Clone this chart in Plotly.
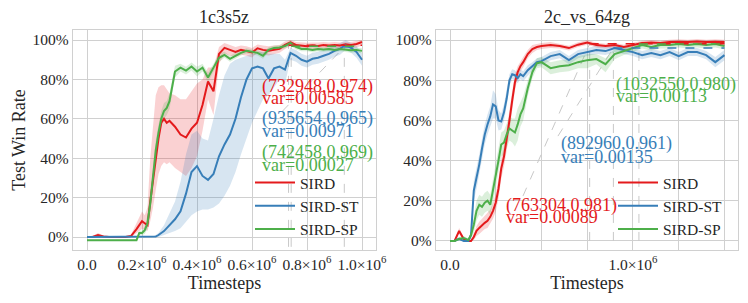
import numpy as np
import plotly.graph_objects as go

# ---------------- data: 1c3s5z (timesteps in millions) ----------------
L_T = [0.00, 0.02, 0.04, 0.06, 0.08, 0.10, 0.12, 0.14, 0.16, 0.17,
       0.18, 0.19, 0.20, 0.21, 0.22, 0.23, 0.24, 0.25, 0.26, 0.27,
       0.28, 0.29, 0.30, 0.32, 0.34, 0.36, 0.38, 0.40, 0.42, 0.44,
       0.46, 0.48, 0.50, 0.52, 0.54, 0.56, 0.58, 0.60, 0.62, 0.64,
       0.66, 0.68, 0.70, 0.72, 0.74, 0.76, 0.78, 0.80, 0.82, 0.84,
       0.86, 0.88, 0.90, 0.92, 0.94, 0.96, 0.98, 1.00]

L_SIRD = [0, 0, 0.010, 0.003, 0, 0, 0, 0, 0.005, 0.020,
          0.040, 0.060, 0.080, 0.070, 0.060, 0.180, 0.290, 0.400, 0.500, 0.580,
          0.600, 0.580, 0.590, 0.560, 0.520, 0.505, 0.550, 0.580, 0.670, 0.790,
          0.740, 0.930, 0.960, 0.950, 0.940, 0.950, 0.945, 0.937, 0.958, 0.950,
          0.946, 0.950, 0.955, 0.975, 0.988, 0.975, 0.970, 0.968, 0.972, 0.970,
          0.975, 0.970, 0.975, 0.972, 0.978, 0.975, 0.980, 0.990]
L_SIRD_LO = [0, 0, 0.003, 0, 0, 0, 0, 0, 0, 0.010,
             0.020, 0.030, 0.040, 0.040, 0.030, 0.080, 0.150, 0.240, 0.320, 0.360,
             0.380, 0.370, 0.380, 0.350, 0.330, 0.310, 0.350, 0.410, 0.540, 0.700,
             0.620, 0.880, 0.930, 0.920, 0.915, 0.925, 0.920, 0.912, 0.935, 0.925,
             0.922, 0.928, 0.935, 0.955, 0.970, 0.958, 0.952, 0.950, 0.955, 0.952,
             0.958, 0.952, 0.958, 0.955, 0.962, 0.958, 0.962, 0.972]
L_SIRD_HI = [0.005, 0.005, 0.020, 0.008, 0.005, 0.005, 0.005, 0.005, 0.012, 0.040,
             0.070, 0.100, 0.130, 0.110, 0.150, 0.400, 0.580, 0.720, 0.760, 0.770,
             0.770, 0.750, 0.730, 0.720, 0.700, 0.700, 0.740, 0.780, 0.800, 0.860,
             0.860, 0.965, 0.985, 0.975, 0.965, 0.972, 0.968, 0.960, 0.978, 0.972,
             0.968, 0.972, 0.975, 0.992, 1.000, 0.990, 0.988, 0.986, 0.988, 0.987,
             0.990, 0.988, 0.990, 0.988, 0.993, 0.990, 0.995, 1.000]

L_ST = [0, 0, 0, 0, 0, 0, 0, 0, 0, 0,
        0, 0, 0, 0, 0, 0, 0, 0.002, 0.010, 0.020,
        0.030, 0.045, 0.060, 0.090, 0.130, 0.220, 0.330, 0.360, 0.310, 0.290,
        0.320, 0.410, 0.470, 0.520, 0.600, 0.710, 0.800, 0.856, 0.865, 0.856,
        0.805, 0.856, 0.865, 0.850, 0.935, 0.920, 0.900, 0.890, 0.905, 0.910,
        0.920, 0.930, 0.945, 0.955, 0.975, 0.960, 0.940, 0.900]
L_ST_LO = [0, 0, 0, 0, 0, 0, 0, 0, 0, 0,
           0, 0, 0, 0, 0, 0, 0, 0, 0, 0.005,
           0.010, 0.015, 0.020, 0.030, 0.045, 0.080, 0.110, 0.130, 0.140, 0.140,
           0.150, 0.170, 0.210, 0.260, 0.330, 0.420, 0.500, 0.580, 0.640, 0.700,
           0.720, 0.760, 0.800, 0.780, 0.900, 0.890, 0.870, 0.860, 0.875, 0.880,
           0.890, 0.900, 0.915, 0.925, 0.950, 0.935, 0.910, 0.870]
L_ST_HI = [0.003, 0.003, 0.003, 0.003, 0.003, 0.003, 0.003, 0.003, 0.003, 0.003,
           0.003, 0.003, 0.003, 0.003, 0.003, 0.003, 0.003, 0.010, 0.020, 0.040,
           0.060, 0.090, 0.120, 0.180, 0.280, 0.420, 0.520, 0.540, 0.500, 0.490,
           0.600, 0.720, 0.820, 0.880, 0.900, 0.910, 0.920, 0.930, 0.940, 0.940,
           0.930, 0.930, 0.930, 0.900, 0.960, 0.950, 0.930, 0.920, 0.935, 0.940,
           0.950, 0.960, 0.975, 0.985, 1.000, 0.985, 0.970, 0.930]

L_SP = [-0.017, -0.017, -0.017, -0.017, -0.017, -0.017, -0.017, -0.017, -0.017, -0.017,
        -0.017, 0.020, 0.020, 0.035, 0.070, 0.170, 0.300, 0.440, 0.530, 0.600,
        0.640, 0.655, 0.690, 0.840, 0.860, 0.845, 0.866, 0.840, 0.860, 0.810,
        0.860, 0.910, 0.925, 0.905, 0.920, 0.935, 0.945, 0.940, 0.935, 0.920,
        0.950, 0.960, 0.962, 0.970, 0.985, 0.965, 0.955, 0.955, 0.950, 0.955,
        0.952, 0.955, 0.950, 0.955, 0.950, 0.948, 0.950, 0.945]
L_SP_LO = [-0.020, -0.020, -0.020, -0.020, -0.020, -0.020, -0.020, -0.020, -0.020, -0.020,
           -0.020, 0.010, 0.010, 0.015, 0.040, 0.120, 0.250, 0.400, 0.490, 0.560,
           0.600, 0.620, 0.650, 0.810, 0.840, 0.825, 0.845, 0.815, 0.840, 0.785,
           0.840, 0.890, 0.910, 0.890, 0.905, 0.922, 0.932, 0.928, 0.922, 0.905,
           0.937, 0.948, 0.950, 0.958, 0.972, 0.952, 0.943, 0.943, 0.938, 0.943,
           0.940, 0.943, 0.938, 0.943, 0.938, 0.936, 0.938, 0.932]
L_SP_HI = [-0.014, -0.014, -0.014, -0.014, -0.014, -0.014, -0.014, -0.014, -0.014, -0.014,
           -0.014, 0.030, 0.032, 0.055, 0.110, 0.230, 0.360, 0.490, 0.570, 0.640,
           0.680, 0.690, 0.730, 0.870, 0.880, 0.865, 0.886, 0.865, 0.880, 0.835,
           0.880, 0.930, 0.940, 0.920, 0.935, 0.948, 0.958, 0.952, 0.948, 0.935,
           0.963, 0.972, 0.974, 0.982, 0.998, 0.978, 0.967, 0.967, 0.962, 0.967,
           0.964, 0.967, 0.962, 0.967, 0.962, 0.960, 0.962, 0.958]

L_MARK_T = [732948, 935654, 742458]
L_MARK_V = [0.974, 0.965, 0.969]
L_MARK_VAR = ["0.00585", "0.00971", "0.00027"]

# ---------------- data: 2c_vs_64zg (timesteps in millions) ----------------
R_T = [0, 0.025, 0.05, 0.075, 0.1, 0.115, 0.13, 0.145, 0.16, 0.175,
       0.19, 0.205, 0.22, 0.235, 0.25, 0.265, 0.28, 0.295, 0.31, 0.325,
       0.34, 0.355, 0.37, 0.385, 0.4, 0.425, 0.45, 0.475, 0.5, 0.55,
       0.6, 0.65, 0.7, 0.75, 0.8, 0.85, 0.9, 0.95, 1.0, 1.05,
       1.1, 1.15, 1.2, 1.25, 1.3, 1.35, 1.4, 1.45, 1.5]

R_SIRD = [0, 0, 0.050, 0.010, 0, 0, 0.020, 0.050, 0.065, 0.080,
          0.090, 0.100, 0.120, 0.150, 0.190, 0.260, 0.360, 0.420, 0.500, 0.600,
          0.700, 0.790, 0.840, 0.870, 0.890, 0.930, 0.955, 0.965, 0.970, 0.975,
          0.970, 0.960, 0.977, 0.988, 0.975, 0.970, 0.975, 0.965, 0.975, 0.985,
          0.988, 0.985, 0.990, 0.992, 0.990, 0.993, 0.990, 0.992, 0.990]
R_SIRD_LO = [0, 0, 0.035, 0.002, 0, 0, 0.005, 0.025, 0.035, 0.050,
             0.060, 0.065, 0.085, 0.110, 0.145, 0.210, 0.310, 0.370, 0.450, 0.550,
             0.655, 0.750, 0.810, 0.845, 0.865, 0.910, 0.935, 0.950, 0.955, 0.960,
             0.958, 0.948, 0.965, 0.976, 0.963, 0.958, 0.963, 0.953, 0.963, 0.973,
             0.976, 0.973, 0.978, 0.980, 0.978, 0.981, 0.978, 0.980, 0.978]
R_SIRD_HI = [0.005, 0.005, 0.065, 0.018, 0.005, 0.005, 0.035, 0.075, 0.095, 0.110,
             0.120, 0.135, 0.155, 0.190, 0.235, 0.310, 0.410, 0.470, 0.550, 0.650,
             0.745, 0.830, 0.870, 0.895, 0.915, 0.950, 0.975, 0.980, 0.985, 0.990,
             0.982, 0.972, 0.989, 1.000, 0.987, 0.982, 0.987, 0.977, 0.987, 0.997,
             1.000, 0.997, 1.002, 1.004, 1.002, 1.005, 1.002, 1.004, 1.002]

R_ST = [0, 0, 0.010, 0, 0, 0.030, 0.250, 0.310, 0.380, 0.460,
        0.530, 0.580, 0.620, 0.680, 0.670, 0.600, 0.595, 0.640, 0.710, 0.800,
        0.830, 0.825, 0.810, 0.830, 0.820, 0.850, 0.870, 0.890, 0.895, 0.920,
        0.930, 0.900, 0.930, 0.940, 0.950, 0.945, 0.960, 0.950, 0.940, 0.925,
        0.935, 0.925, 0.940, 0.920, 0.940, 0.940, 0.925, 0.890, 0.925]
R_ST_LO = [0, 0, 0.003, 0, 0, 0.010, 0.200, 0.260, 0.330, 0.410,
           0.480, 0.530, 0.570, 0.610, 0.610, 0.550, 0.555, 0.600, 0.670, 0.770,
           0.805, 0.800, 0.785, 0.805, 0.795, 0.825, 0.850, 0.870, 0.875, 0.900,
           0.910, 0.880, 0.910, 0.920, 0.930, 0.925, 0.940, 0.930, 0.920, 0.905,
           0.915, 0.905, 0.920, 0.900, 0.920, 0.920, 0.905, 0.865, 0.900]
R_ST_HI = [0.003, 0.003, 0.020, 0.003, 0.003, 0.050, 0.300, 0.360, 0.430, 0.510,
           0.580, 0.630, 0.670, 0.750, 0.730, 0.650, 0.635, 0.680, 0.750, 0.830,
           0.855, 0.850, 0.835, 0.855, 0.845, 0.875, 0.890, 0.910, 0.915, 0.940,
           0.950, 0.920, 0.950, 0.960, 0.970, 0.965, 0.980, 0.970, 0.960, 0.945,
           0.955, 0.945, 0.960, 0.940, 0.960, 0.960, 0.945, 0.915, 0.950]

R_SP = [0, 0, 0.010, 0.015, 0.005, 0.030, 0.080, 0.150, 0.180, 0.170,
        0.190, 0.200, 0.180, 0.250, 0.330, 0.400, 0.480, 0.490, 0.530, 0.560,
        0.550, 0.540, 0.580, 0.630, 0.660, 0.760, 0.840, 0.885, 0.890, 0.860,
        0.870, 0.875, 0.890, 0.900, 0.905, 0.880, 0.930, 0.945, 0.960, 0.975,
        0.965, 0.975, 0.975, 0.980, 0.975, 0.980, 0.975, 0.980, 0.970]
R_SP_LO = [0, 0, 0.003, 0.005, 0, 0.010, 0.040, 0.100, 0.130, 0.120,
           0.140, 0.150, 0.130, 0.190, 0.270, 0.340, 0.420, 0.430, 0.470, 0.500,
           0.490, 0.470, 0.500, 0.570, 0.600, 0.720, 0.810, 0.860, 0.865, 0.830,
           0.840, 0.845, 0.860, 0.860, 0.880, 0.840, 0.905, 0.925, 0.940, 0.958,
           0.948, 0.958, 0.958, 0.963, 0.958, 0.963, 0.958, 0.963, 0.953]
R_SP_HI = [0.005, 0.005, 0.020, 0.025, 0.012, 0.050, 0.120, 0.200, 0.230, 0.220,
           0.240, 0.250, 0.230, 0.310, 0.390, 0.460, 0.540, 0.550, 0.590, 0.620,
           0.610, 0.610, 0.660, 0.690, 0.720, 0.800, 0.870, 0.910, 0.915, 0.890,
           0.900, 0.905, 0.920, 0.930, 0.930, 0.910, 0.955, 0.965, 0.980, 0.992,
           0.982, 0.992, 0.992, 0.997, 0.992, 0.997, 0.992, 0.997, 0.987]

R_MARK_T = [763304, 892960, 1032550]
R_MARK_V = [0.981, 0.961, 0.980]
R_MARK_VAR = ["0.00089", "0.00135", "0.00113"]

SERIES = ["SIRD", "SIRD-ST", "SIRD-SP"]
TITLES = ["1c3s5z", "2c_vs_64zg"]

L_XTICKS = [0, 0.2, 0.4, 0.6, 0.8, 1.0]
L_XTICKTEXT = ["0.0", "0.2×10<sup>6</sup>", "0.4×10<sup>6</sup>", "0.6×10<sup>6</sup>",
               "0.8×10<sup>6</sup>", "1.0×10<sup>6</sup>"]
R_XTICKS = [0, 0.25, 0.5, 0.75, 1.0, 1.25, 1.5]
R_XTICKTEXT = ["0.0", "", "", "", "1.0×10<sup>6</sup>", "", ""]
Y_TICKS = [0, 0.2, 0.4, 0.6, 0.8, 1.0]
Y_TICKTEXT = ["0%", "20%", "40%", "60%", "80%", "100%"]

# ---------------- styling ----------------
COLORS = ["#e41a1c", "#377eb8", "#4daf4a"]
FILLS = ["rgba(228,26,28,0.2)", "rgba(55,126,184,0.2)", "rgba(77,175,74,0.2)"]
GRID = "#d0d0d0"
REF = "#c8c8c8"
TXT = "#262626"
FONT = "Liberation Serif, Times New Roman, serif"
W, H = 748, 303

fig = go.Figure()


def add_panel(xa, ya, leg, t, series, marks_t, marks_v, marks_var, x_end, vbottom,
              text_pos, diag_start):
    x = [v * 1e6 for v in t]
    # grey reference lines (vertical + connectors)
    for i in range(3):
        fig.add_trace(go.Scatter(x=[marks_t[i], marks_t[i]], y=[vbottom, marks_v[i]],
                                 mode="lines", line=dict(color=REF, width=1, dash="dash"),
                                 xaxis=xa, yaxis=ya, showlegend=False, hoverinfo="skip"))
        if diag_start[i] is not None:
            fig.add_trace(go.Scatter(x=[diag_start[i][0], marks_t[i]],
                                     y=[diag_start[i][1], marks_v[i]],
                                     mode="lines", line=dict(color=REF, width=1, dash="dash"),
                                     xaxis=xa, yaxis=ya, showlegend=False, hoverinfo="skip"))
    # bands
    for i, (name, mean, lo, hi) in enumerate(series):
        fig.add_trace(go.Scatter(x=x, y=lo, mode="lines", line=dict(width=0),
                                 xaxis=xa, yaxis=ya, showlegend=False, hoverinfo="skip"))
        fig.add_trace(go.Scatter(x=x, y=hi, mode="lines", line=dict(width=0),
                                 fill="tonexty", fillcolor=FILLS[i],
                                 xaxis=xa, yaxis=ya, showlegend=False, hoverinfo="skip"))
    # mean lines
    for i, (name, mean, lo, hi) in enumerate(series):
        fig.add_trace(go.Scatter(x=x, y=mean, mode="lines", name=name,
                                 line=dict(color=COLORS[i], width=2),
                                 xaxis=xa, yaxis=ya, legend=leg))
    # horizontal marker lines in series colours
    for i in range(3):
        fig.add_trace(go.Scatter(x=[marks_t[i], x_end], y=[marks_v[i], marks_v[i]],
                                 mode="lines", line=dict(color=COLORS[i], width=1.5, dash="dash"),
                                 xaxis=xa, yaxis=ya, showlegend=False, hoverinfo="skip"))
    # text labels
    for i in range(3):
        tx, y1, y2 = text_pos[i]
        fig.add_annotation(x=tx, y=y1, xref=xa, yref=ya, xanchor="left", yanchor="middle",
                           text=f"({marks_t[i]},{marks_v[i]:.3f})", showarrow=False,
                           font=dict(family=FONT, size=18, color=COLORS[i]))
        fig.add_annotation(x=tx, y=y2, xref=xa, yref=ya, xanchor="left", yanchor="middle",
                           text=f"var={marks_var[i]}", showarrow=False,
                           font=dict(family=FONT, size=18, color=COLORS[i]))


add_panel("x", "y", "legend", L_T,
          [(SERIES[0], L_SIRD, L_SIRD_LO, L_SIRD_HI),
           (SERIES[1], L_ST, L_ST_LO, L_ST_HI),
           (SERIES[2], L_SP, L_SP_LO, L_SP_HI)],
          L_MARK_T, L_MARK_V, L_MARK_VAR, 1.0e6, -0.05,
          [(0.628e6, 0.765, 0.705), (0.628e6, 0.602, 0.537), (0.628e6, 0.428, 0.364)],
          [None, (0.710e6, 0.638), None])

add_panel("x2", "y2", "legend2", R_T,
          [(SERIES[0], R_SIRD, R_SIRD_LO, R_SIRD_HI),
           (SERIES[1], R_ST, R_ST_LO, R_ST_HI),
           (SERIES[2], R_SP, R_SP_LO, R_SP_HI)],
          R_MARK_T, R_MARK_V, R_MARK_VAR, 1.5e6, 0.0,
          [(0.295e6, 0.176, 0.118), (0.596e6, 0.483, 0.416), (0.896e6, 0.781, 0.720)],
          [(0.399e6, 0.224), (0.590e6, 0.522), None])

axis_common = dict(showgrid=True, gridcolor=GRID, gridwidth=1, zeroline=False,
                   showline=True, linecolor=GRID, linewidth=1.25, mirror=True,
                   automargin=False, ticks="",
                   tickfont=dict(family=FONT, size=15.5, color=TXT))

fig.update_layout(
    template="none",
    width=W, height=H,
    margin=dict(l=0, r=0, t=0, b=0, pad=0, autoexpand=False),
    paper_bgcolor="white", plot_bgcolor="white",
    font=dict(family=FONT, color=TXT),
    xaxis=dict(domain=[73 / W, 376 / W], range=[-0.0509e6, 1.0509e6],
               tickvals=[v * 1e6 for v in L_XTICKS], ticktext=L_XTICKTEXT,
               title=dict(text="Timesteps", font=dict(family=FONT, size=18, color=TXT), standoff=4),
               anchor="y", **axis_common),
    yaxis=dict(domain=[1 - 250 / H, 1 - 30 / H], range=[-0.066, 1.051],
               tickvals=Y_TICKS, ticktext=Y_TICKTEXT,
               title=dict(text="Test Win Rate", font=dict(family=FONT, size=18, color=TXT), standoff=2),
               anchor="x", **axis_common),
    xaxis2=dict(domain=[436 / W, 738 / W], range=[-0.0765e6, 1.574e6],
                tickvals=[v * 1e6 for v in R_XTICKS], ticktext=R_XTICKTEXT,
                title=dict(text="Timesteps", font=dict(family=FONT, size=18, color=TXT), standoff=4),
                anchor="y2", **axis_common),
    yaxis2=dict(domain=[1 - 250 / H, 1 - 30 / H], range=[-0.045, 1.05],
                tickvals=Y_TICKS, ticktext=Y_TICKTEXT, anchor="x2", **axis_common),
    legend=dict(x=250 / W, y=1 - 166 / H, xanchor="left", yanchor="top",
                bgcolor="rgba(0,0,0,0)", itemwidth=40, traceorder="normal",
                font=dict(family=FONT, size=15.5, color=TXT)),
    legend2=dict(x=613 / W, y=1 - 166 / H, xanchor="left", yanchor="top",
                 bgcolor="rgba(0,0,0,0)", itemwidth=40, traceorder="normal",
                 font=dict(family=FONT, size=15.5, color=TXT)),
    showlegend=True,
)

for i, (cx, title) in enumerate(zip([224.5, 587], TITLES)):
    fig.add_annotation(x=cx / W, y=1 - 17 / H, xref="paper", yref="paper",
                       xanchor="center", yanchor="middle", text=title, showarrow=False,
                       font=dict(family=FONT, size=18, color=TXT))

fig.write_html("out.html", config={"displayModeBar": False},
               post_script="document.body.style.margin='0px';document.body.style.padding='0px';")
